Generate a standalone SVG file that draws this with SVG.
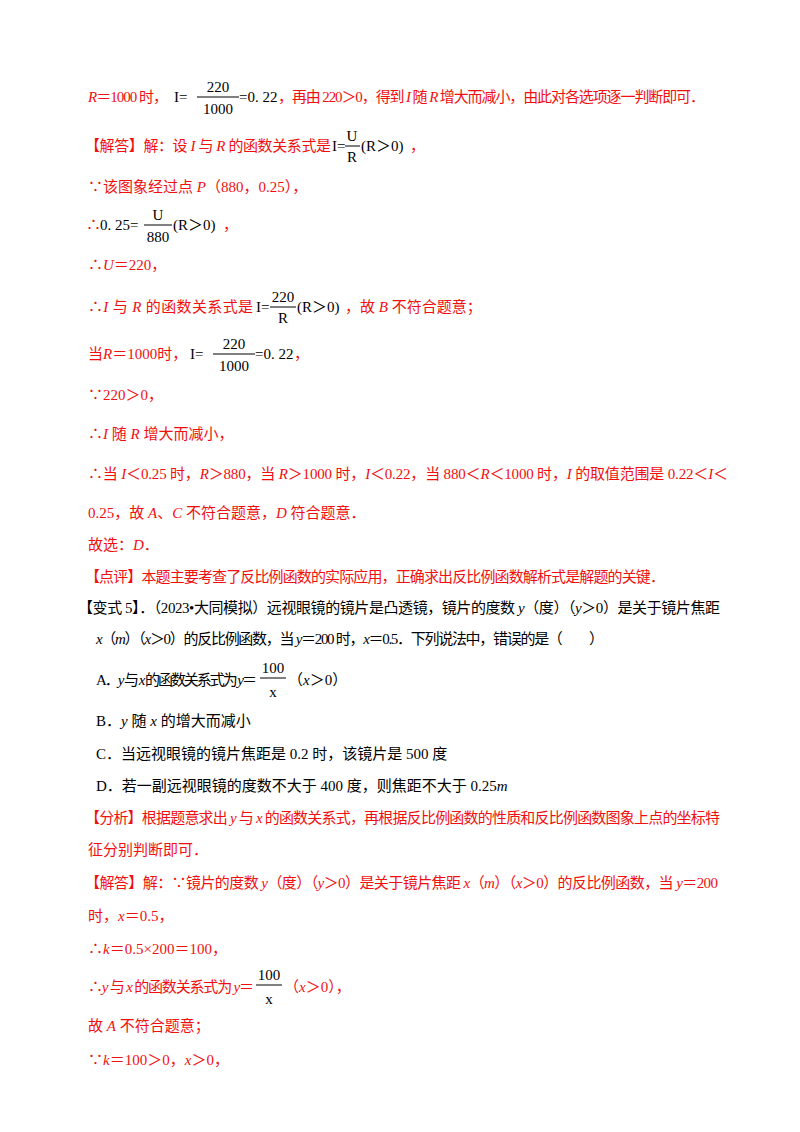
<svg xmlns="http://www.w3.org/2000/svg" width="800" height="1132" viewBox="0 0 800 1132">
<style>
text{font-family:"Liberation Serif","Noto Sans CJK SC",serif;font-size:15px;fill:#f01010}
.k{fill:#000}
.m{fill:#000;font-size:15px}
.i{font-style:italic}
.c{text-anchor:middle}
line{stroke:#000;stroke-width:1}
</style>
<rect width="800" height="1132" fill="#fff"/>
<g id="l1">
<text x="88" y="102" textLength="80"><tspan class="i">R</tspan>＝1000 时，</text>
<text class="m" x="174" y="102">I=</text>
<text class="m c" x="218" y="92">220</text><line x1="197" y1="97" x2="239" y2="97"/><text class="m c" x="218" y="114">1000</text>
<text class="m" x="239" y="102">=0. 22</text>
<text x="278" y="102" textLength="427">，再由 220＞0，得到 <tspan class="i">I</tspan> 随 <tspan class="i">R</tspan> 增大而减小，由此对各选项逐一判断即可．</text>
</g>
<g id="l2">
<text x="85" y="151" textLength="246">【解答】解：设 <tspan class="i">I</tspan> 与 <tspan class="i">R</tspan> 的函数关系式是</text>
<text class="m" x="332" y="151">I=</text>
<text class="m c" x="352" y="141">U</text><line x1="345" y1="146" x2="360" y2="146"/><text class="m c" x="352" y="162">R</text>
<text class="m" x="361" y="151">(R＞0)</text><text x="410" y="151">，</text>
</g>
<text x="88" y="192">∵该图象经过点 <tspan class="i">P</tspan>（880，0.25），</text>
<g id="l4">
<text x="86" y="230">∴</text><text class="m" x="100" y="230">0. 25=</text>
<text class="m c" x="158" y="220">U</text><line x1="144" y1="225" x2="172" y2="225"/><text class="m c" x="158" y="242">880</text>
<text class="m" x="173" y="230">(R＞0)</text><text x="223" y="230">，</text>
</g>
<text x="88" y="270">∴<tspan class="i">U</tspan>＝220，</text>
<g id="l6">
<text x="88" y="312" textLength="165">∴<tspan class="i">I</tspan> 与 <tspan class="i">R</tspan> 的函数关系式是</text>
<text class="m" x="256" y="312">I=</text>
<text class="m c" x="283" y="302">220</text><line x1="270" y1="307" x2="296" y2="307"/><text class="m c" x="283" y="323">R</text>
<text class="m" x="297" y="312">(R＞0)</text><text x="345" y="312">，故 <tspan class="i">B</tspan> 不符合题意；</text>
</g>
<g id="l7">
<text x="88" y="359">当<tspan class="i">R</tspan>＝1000时，</text>
<text class="m" x="190" y="359">I=</text>
<text class="m c" x="234" y="349">220</text><line x1="213" y1="354" x2="255" y2="354"/><text class="m c" x="234" y="371">1000</text>
<text class="m" x="255" y="359">=0. 22</text><text x="294" y="359">，</text>
</g>
<text x="88" y="400">∵220＞0，</text>
<text x="88" y="439">∴<tspan class="i">I</tspan> 随 <tspan class="i">R</tspan> 增大而减小，</text>
<text x="88" y="479" textLength="640">∴当 <tspan class="i">I</tspan>＜0.25 时，<tspan class="i">R</tspan>＞880，当 <tspan class="i">R</tspan>＞1000 时，<tspan class="i">I</tspan>＜0.22，当 880＜<tspan class="i">R</tspan>＜1000 时，<tspan class="i">I</tspan> 的取值范围是 0.22＜<tspan class="i">I</tspan>＜</text>
<text x="88" y="518">0.25，故 <tspan class="i">A</tspan>、<tspan class="i">C</tspan> 不符合题意，<tspan class="i">D</tspan> 符合题意．</text>
<text x="88" y="550">故选：<tspan class="i">D</tspan>．</text>
<text x="85" y="582" textLength="580">【点评】本题主要考查了反比例函数的实际应用，正确求出反比例函数解析式是解题的关键．</text>
<text class="k" x="78" y="613" textLength="642">【变式 5】．（2023•大同模拟）远视眼镜的镜片是凸透镜，镜片的度数 <tspan class="i">y</tspan>（度）（<tspan class="i">y</tspan>＞0）是关于镜片焦距</text>
<text class="k" x="96" y="644" textLength="508"><tspan class="i">x</tspan>（<tspan class="i">m</tspan>）（<tspan class="i">x</tspan>＞0）的反比例函数，当 <tspan class="i">y</tspan>＝200 时，<tspan class="i">x</tspan>＝0.5．下列说法中，错误的是（　　）</text>
<g id="optA">
<text class="k" x="96" y="685" textLength="161">A．<tspan class="i">y</tspan> 与 <tspan class="i">x</tspan> 的函数关系式为 <tspan class="i">y</tspan>＝</text>
<text class="m c" x="273" y="673">100</text><line x1="260" y1="678" x2="286" y2="678"/><text class="m c" x="273" y="697">x</text>
<text class="k" x="288" y="685">（<tspan class="i">x</tspan>＞0）</text>
</g>
<text class="k" x="96" y="726">B．<tspan class="i">y</tspan> 随 <tspan class="i">x</tspan> 的增大而减小</text>
<text class="k" x="96" y="759">C．当远视眼镜的镜片焦距是 0.2 时，该镜片是 500 度</text>
<text class="k" x="96" y="791">D．若一副远视眼镜的度数不大于 400 度，则焦距不大于 0.25<tspan class="i">m</tspan></text>
<text x="85" y="823" textLength="635">【分析】根据题意求出 <tspan class="i">y</tspan> 与 <tspan class="i">x</tspan> 的函数关系式，再根据反比例函数的性质和反比例函数图象上点的坐标特</text>
<text x="88" y="855">征分别判断即可．</text>
<text x="85" y="888" textLength="633">【解答】解：∵镜片的度数 <tspan class="i">y</tspan>（度）（<tspan class="i">y</tspan>＞0）是关于镜片焦距 <tspan class="i">x</tspan>（<tspan class="i">m</tspan>）（<tspan class="i">x</tspan>＞0）的反比例函数，当 <tspan class="i">y</tspan>＝200</text>
<text x="88" y="921">时，<tspan class="i">x</tspan>＝0.5，</text>
<text x="88" y="954">∴<tspan class="i">k</tspan>＝0.5×200＝100，</text>
<g id="l25">
<text x="88" y="992" textLength="166">∴<tspan class="i">y</tspan> 与 <tspan class="i">x</tspan> 的函数关系式为 <tspan class="i">y</tspan>＝</text>
<text class="m c" x="269" y="980">100</text><line x1="256" y1="985" x2="282" y2="985"/><text class="m c" x="269" y="1004">x</text>
<text x="284" y="992">（<tspan class="i">x</tspan>＞0），</text>
</g>
<text x="88" y="1031">故 <tspan class="i">A</tspan> 不符合题意；</text>
<text x="88" y="1065">∵<tspan class="i">k</tspan>＝100＞0，<tspan class="i">x</tspan>＞0，</text>
</svg>
